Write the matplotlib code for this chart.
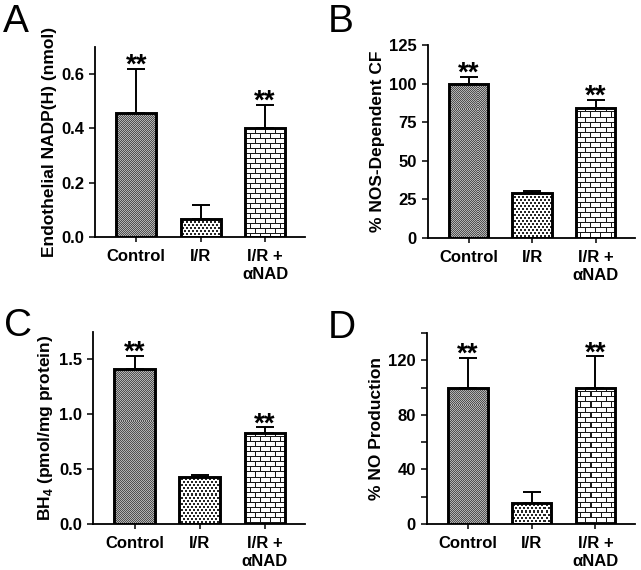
import numpy as np
import matplotlib
matplotlib.use("Agg")
import matplotlib.pyplot as plt

plt.rcParams['font.family'] = ['Liberation Sans', 'DejaVu Sans']
plt.rcParams['font.weight'] = 'bold'
plt.rcParams['mathtext.fontset'] = 'custom'
plt.rcParams['mathtext.rm'] = 'Liberation Sans:bold'
plt.rcParams['mathtext.bf'] = 'Liberation Sans:bold'

# data
groups = ['Control', 'I/R', 'I/R +\nαNAD']
nadph_mean = [0.455, 0.068, 0.40]
nadph_err = [0.165, 0.05, 0.088]
nos_mean = [100, 29, 84.5]
nos_err = [4.5, 1.2, 5]
bh4_mean = [1.415, 0.43, 0.83]
bh4_err = [0.12, 0.02, 0.05]
no_mean = [100, 15.5, 100]
no_err = [22, 8, 23]
stars = ['**', '', '**']


def texture(kind, h, w):
    y, x = np.indices((h, w))
    t = np.ones((h, w))
    if kind == 'check':
        t = np.where((x + y) % 2 == 0, 0.32, 0.70)
    elif kind == 'dots':
        row = y // 3
        dark = (y % 3 < 2) & ((x + 2 * (row % 2)) % 4 < 2)
        t[dark] = 0.15
    else:
        row = y // 5
        t[y % 5 == 0] = 0.1
        off = np.where(row % 2 == 0, 0, 5)
        t[(x + off) % 10 == 0] = 0.1
    return t


kinds = ['check', 'dots', 'bricks']

fig = plt.figure(figsize=(6.41, 5.70), dpi=100)


def make_ax(l, t, r, b):
    return fig.add_axes([l / 641, 1 - b / 570, (r - l) / 641, (b - t) / 570])


panels = [
    (make_ax(95, 47, 305, 237), nadph_mean, nadph_err, 0.7, [0, 0.2, 0.4, 0.6],
     ['0.0', '0.2', '0.4', '0.6'], 'Endothelial NADP(H) (nmol)'),
    (make_ax(428, 45, 635, 238), nos_mean, nos_err, 125, [0, 25, 50, 75, 100, 125],
     ['0', '25', '50', '75', '100', '125'], '% NOS-Dependent CF'),
    (make_ax(93, 332, 305, 524), bh4_mean, bh4_err, 1.75, [0, 0.5, 1.0, 1.5],
     ['0.0', '0.5', '1.0', '1.5'], r'BH$_{4}$ (pmol/mg protein)'),
    (make_ax(427, 333, 635, 524), no_mean, no_err, 140, [0, 20, 40, 60, 80, 100, 120, 140],
     ['0', '', '40', '', '80', '', '120', ''], '% NO Production'),
]

xpos = np.arange(3)
all_bars = []
for ax, mean, err, top, ticks, labels, ylab in panels:
    bars = ax.bar(xpos, mean, width=0.62, facecolor='none', edgecolor='black',
                  linewidth=2.1, zorder=3)
    all_bars.append(bars)
    ax.errorbar(xpos, mean, yerr=[[0, 0, 0], err], fmt='none', ecolor='black',
                elinewidth=1.4, capsize=6.5, capthick=1.4, zorder=2)
    for xi, m, e, s in zip(xpos, mean, err, stars):
        if s:
            ax.annotate(s, (xi, m + e), xytext=(0, -3), textcoords='offset points',
                        ha='center', va='baseline', fontsize=20, fontweight='bold')
    ax.set_xlim(-0.64, 2.62)
    ax.set_ylim(0, top)
    ax.set_yticks(ticks)
    ax.set_yticklabels(labels)
    ax.set_xticks(xpos)
    ax.set_xticklabels(groups, multialignment='center', linespacing=1.3)
    ax.set_ylabel(ylab, fontsize=12.5, fontweight='bold', labelpad=3)
    ax.spines['top'].set_visible(False)
    ax.spines['right'].set_visible(False)
    ax.spines['left'].set_linewidth(1.3)
    ax.spines['bottom'].set_linewidth(1.3)
    ax.tick_params(axis='y', direction='out', length=4.5, width=1.1, labelsize=12)
    ax.tick_params(axis='x', direction='out', length=3.5, width=1.1, labelsize=12, pad=5)

fig.canvas.draw()
renderer = fig.canvas.get_renderer()
for (ax, mean, err, top, *_), bars in zip(panels, all_bars):
    inv = ax.transData.inverted()
    for bar, kind in zip(bars, kinds):
        bb = bar.get_window_extent(renderer)
        x0, y0 = np.floor(bb.x0), np.floor(bb.y0)
        x1, y1 = np.ceil(bb.x1), np.ceil(bb.y1)
        (dx0, dy0), (dx1, dy1) = inv.transform([(x0, y0), (x1, y1)])
        tex = texture(kind, int(y1 - y0), int(x1 - x0))
        im = ax.imshow(tex, cmap='gray', vmin=0, vmax=1, aspect='auto',
                       interpolation='nearest', zorder=1,
                       extent=(dx0, dx1, dy0, dy1))
        im.set_clip_path(bar)
    ax.set_xlim(-0.64, 2.62)
    ax.set_ylim(0, top)

for letter, x, y in [('A', 3, 32), ('B', 328, 32), ('C', 4, 336), ('D', 328, 338)]:
    fig.text(x / 641, 1 - y / 570, letter, fontsize=28, fontweight='normal',
             va='baseline', ha='left')

fig.savefig('out.png', dpi=100)
